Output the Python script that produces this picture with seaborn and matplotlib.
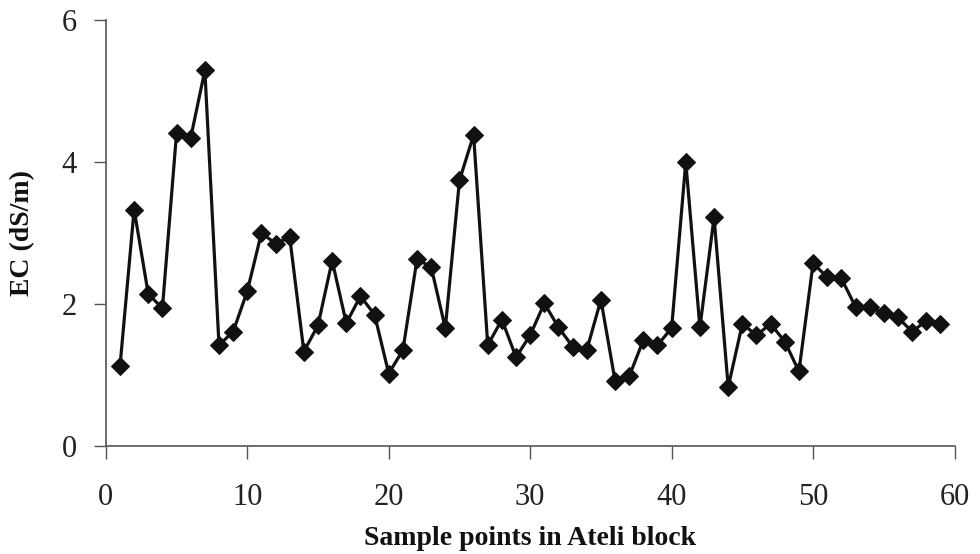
import matplotlib
matplotlib.use("Agg")
import matplotlib.pyplot as plt
import seaborn as sns
import pandas as pd

sample_points = list(range(1, 60))
ec_values = [1.12, 3.33, 2.14, 1.94, 4.41, 4.34, 5.29, 1.42, 1.61, 2.18,
             3.00, 2.85, 2.94, 1.33, 1.70, 2.61, 1.73, 2.11, 1.85, 1.02,
             1.35, 2.63, 2.52, 1.66, 3.74, 4.38, 1.42, 1.78, 1.25, 1.56,
             2.01, 1.67, 1.40, 1.35, 2.06, 0.92, 0.98, 1.49, 1.42, 1.66,
             4.00, 1.67, 3.22, 0.83, 1.72, 1.56, 1.72, 1.47, 1.05, 2.57,
             2.38, 2.36, 1.96, 1.96, 1.87, 1.81, 1.61, 1.76, 1.72]
x_ticks = [0, 10, 20, 30, 40, 50, 60]
y_ticks = [0, 2, 4, 6]

df = pd.DataFrame({"x": sample_points, "ec": ec_values})

sns.set_style("white")
plt.rcParams['font.family'] = ['Liberation Serif', 'DejaVu Serif']

fig = plt.figure(figsize=(9.8, 5.54), dpi=100)
ax = fig.add_axes([0.108, 0.195, 0.866, 0.769])

sns.lineplot(data=df, x="x", y="ec", ax=ax, color="#111111", linewidth=2.3,
             marker="D", markersize=9, markeredgecolor="#111111",
             markerfacecolor="#111111")

ax.set_xlim(0, 60)
ax.set_ylim(0, 6)
ax.set_xticks(x_ticks)
ax.set_yticks(y_ticks)
ax.tick_params(axis="both", which="major", labelsize=22, length=9, width=1,
               color="#555555", direction="out", labelcolor="#222222",
               bottom=True, left=True)
ax.tick_params(axis="x", pad=18)
ax.tick_params(axis="y", pad=12)
for s in ["top", "right"]:
    ax.spines[s].set_visible(False)
for s in ["left", "bottom"]:
    ax.spines[s].set_color("#555555")
    ax.spines[s].set_linewidth(1.2)

ax.set_xlabel("Sample points in Ateli block", fontsize=20, fontweight="bold",
              labelpad=10, color="#111111")
ax.set_ylabel("EC (dS/m)", fontsize=20, fontweight="bold", labelpad=19,
              color="#111111")

fig.savefig("out.png", dpi=100)
